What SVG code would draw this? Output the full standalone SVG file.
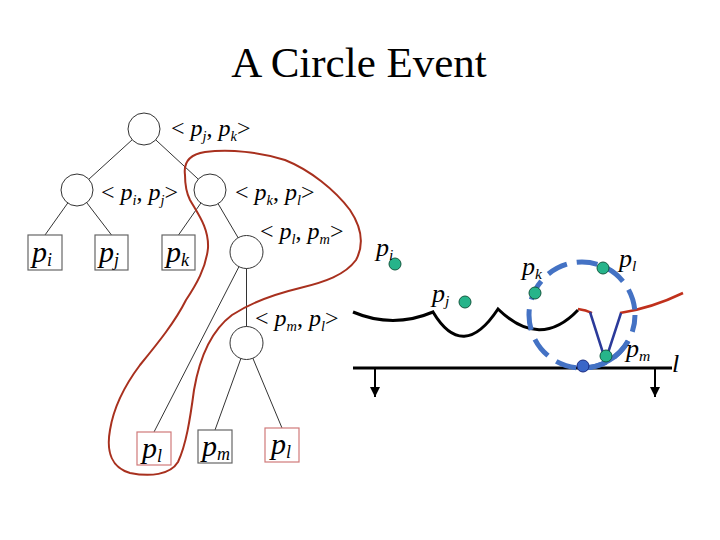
<svg xmlns="http://www.w3.org/2000/svg" width="720" height="540" viewBox="0 0 720 540">
<style>
text{font-family:"Liberation Serif","Times New Roman",serif;fill:#000}
.title{font-size:43px}
.lbl{font-size:24px}
.bx{font-size:30px}
.rl{font-size:26px}
.i{font-style:italic}
.sub{font-style:italic;font-size:60%}
.edge{stroke:#333;stroke-width:1;fill:none}
.node{fill:#fff;stroke:#333;stroke-width:1}
.leaf{fill:#fff;stroke:#666;stroke-width:1.2}
.leafr{fill:#fff;stroke:#d07a7a;stroke-width:1.2}
.site{fill:#26b48a;stroke:#145a40;stroke-width:1}
</style>
<defs>
<marker id="ah" viewBox="0 0 10 10" refX="10" refY="5" markerWidth="10" markerHeight="10" markerUnits="userSpaceOnUse" orient="auto">
<path d="M0,0 L10,5 L0,10 Z" fill="#000"/>
</marker>
</defs>
<text class="title" x="359" y="77" text-anchor="middle">A Circle Event</text>

<g id="connectors">
<line class="edge" x1="144" y1="129" x2="77" y2="190"/>
<line class="edge" x1="144" y1="129" x2="210" y2="190"/>
<line class="edge" x1="77" y1="190" x2="45" y2="235"/>
<line class="edge" x1="77" y1="190" x2="111.5" y2="235"/>
<line class="edge" x1="210" y1="190" x2="178.5" y2="235"/>
<line class="edge" x1="210" y1="190" x2="246.5" y2="252"/>
<line class="edge" x1="246.5" y1="252" x2="154" y2="432"/>
<line class="edge" x1="246.5" y1="252" x2="246.5" y2="343"/>
<line class="edge" x1="246.5" y1="343" x2="215" y2="430"/>
<line class="edge" x1="246.5" y1="343" x2="282" y2="428"/>
</g>

<g id="root"><circle class="node" cx="144" cy="129" r="16"/>
<text class="lbl" x="171" y="136">&lt; <tspan class="i">p</tspan><tspan class="sub" dy="5">j</tspan><tspan dy="-5">, </tspan><tspan class="i">p</tspan><tspan class="sub" dy="5">k</tspan><tspan dy="-5">&gt;</tspan></text></g>

<g id="n-ij"><circle class="node" cx="77" cy="190" r="16"/>
<text class="lbl" x="101" y="200">&lt; <tspan class="i">p</tspan><tspan class="sub" dy="5">i</tspan><tspan dy="-5">, </tspan><tspan class="i">p</tspan><tspan class="sub" dy="5">j</tspan><tspan dy="-5">&gt;</tspan></text></g>

<g id="n-kl"><circle class="node" cx="210" cy="190" r="16"/>
<text class="lbl" x="235" y="200">&lt; <tspan class="i">p</tspan><tspan class="sub" dy="5">k</tspan><tspan dy="-5">, </tspan><tspan class="i">p</tspan><tspan class="sub" dy="5">l</tspan><tspan dy="-5">&gt;</tspan></text></g>

<g id="n-lm"><circle class="node" cx="246.5" cy="252" r="16.5"/>
<text class="lbl" x="260" y="239">&lt; <tspan class="i">p</tspan><tspan class="sub" dy="5">l</tspan><tspan dy="-5">, </tspan><tspan class="i">p</tspan><tspan class="sub" dy="5">m</tspan><tspan dy="-5">&gt;</tspan></text></g>

<g id="n-ml"><circle class="node" cx="246.5" cy="343" r="16.5"/>
<text class="lbl" x="255" y="326">&lt; <tspan class="i">p</tspan><tspan class="sub" dy="5">m</tspan><tspan dy="-5">, </tspan><tspan class="i">p</tspan><tspan class="sub" dy="5">l</tspan><tspan dy="-5">&gt;</tspan></text></g>

<g id="leaf-pi"><rect class="leaf" x="28" y="235" width="34" height="35"/>
<text class="bx" x="32" y="262"><tspan class="i">p</tspan><tspan class="sub" dy="4">i</tspan></text></g>
<g id="leaf-pj"><rect class="leaf" x="95" y="235" width="33" height="35"/>
<text class="bx" x="99" y="262"><tspan class="i">p</tspan><tspan class="sub" dy="4">j</tspan></text></g>
<g id="leaf-pk"><rect class="leaf" x="162" y="235" width="33" height="35"/>
<text class="bx" x="166" y="262"><tspan class="i">p</tspan><tspan class="sub" dy="4">k</tspan></text></g>
<g id="leaf-pl1"><rect class="leafr" x="137" y="432" width="34" height="33"/>
<text class="bx" x="142" y="458"><tspan class="i">p</tspan><tspan class="sub" dy="4">l</tspan></text></g>
<g id="leaf-pm"><rect class="leaf" x="198" y="430" width="34" height="33"/>
<text class="bx" x="202" y="456"><tspan class="i">p</tspan><tspan class="sub" dy="4">m</tspan></text></g>
<g id="leaf-pl2"><rect class="leafr" x="265" y="428" width="34" height="34"/>
<text class="bx" x="271" y="454"><tspan class="i">p</tspan><tspan class="sub" dy="4">l</tspan></text></g>

<path id="loop" fill="none" stroke="#a8301e" stroke-width="2" d="M185,175 C183,160 192,154 205,152 C230,149 260,152 285,160 C310,170 335,190 350,210 C362,228 364,245 356,260 C345,275 325,282 300,288 C275,294 252,302 232,315 C212,330 200,355 194,390 C190,420 186,445 178,462 C170,475 150,477 130,473 C112,468 106,452 110,430 C114,405 125,385 140,365 C158,343 175,322 186,300 C196,285 206,268 208,248 C209,228 198,214 190,200 C185,190 185,182 185,175 Z"/>

<g id="sweep">
<line x1="353" y1="368" x2="672" y2="368" stroke="#000" stroke-width="3"/>
<line x1="375" y1="368" x2="375" y2="397" stroke="#000" stroke-width="2" marker-end="url(#ah)"/>
<line x1="655" y1="368" x2="655" y2="397" stroke="#000" stroke-width="2" marker-end="url(#ah)"/>
<text class="rl i" x="672" y="372">l</text>
</g>

<g id="beachline">
<path d="M353,312 Q393,329 433,312 Q463,362 498,309 Q540,350 578,310" fill="none" stroke="#000" stroke-width="3" stroke-linejoin="miter"/>
<path d="M578,309 Q586,310 592,313" fill="none" stroke="#c0301c" stroke-width="2.5"/>
<path d="M620,313 Q652,308 683,293" fill="none" stroke="#c0301c" stroke-width="2.5"/>
<path d="M590,312 L604,356 M621,313 L607,356" fill="none" stroke="#2b3a9a" stroke-width="2.5"/>
</g>

<g id="circle-event">
<circle cx="582" cy="315" r="53" fill="none" stroke="#4472c4" stroke-width="5" stroke-dasharray="21 10" stroke-dashoffset="4"/>
<path d="M582,368 A53,53 0 0 0 628,341" fill="none" stroke="#4472c4" stroke-width="5"/>
</g>

<g id="sites">
<circle class="site" cx="395" cy="264" r="6"/>
<circle class="site" cx="465" cy="302" r="6"/>
<circle class="site" cx="535" cy="293" r="6"/>
<circle class="site" cx="603" cy="268" r="6"/>
<circle class="site" cx="606" cy="356" r="6"/>
<circle cx="583" cy="366" r="6" fill="#3a66c8" stroke="#1a2a80" stroke-width="1"/>
</g>

<g id="site-labels">
<text class="rl" x="376" y="256"><tspan class="i">p</tspan><tspan class="sub" dy="4">i</tspan></text>
<text class="rl" x="432" y="302"><tspan class="i">p</tspan><tspan class="sub" dy="4">j</tspan></text>
<text class="rl" x="522" y="275"><tspan class="i">p</tspan><tspan class="sub" dy="4">k</tspan></text>
<text class="rl" x="619" y="267"><tspan class="i">p</tspan><tspan class="sub" dy="4">l</tspan></text>
<text class="rl" x="626" y="357"><tspan class="i">p</tspan><tspan class="sub" dy="4">m</tspan></text>
</g>
</svg>
